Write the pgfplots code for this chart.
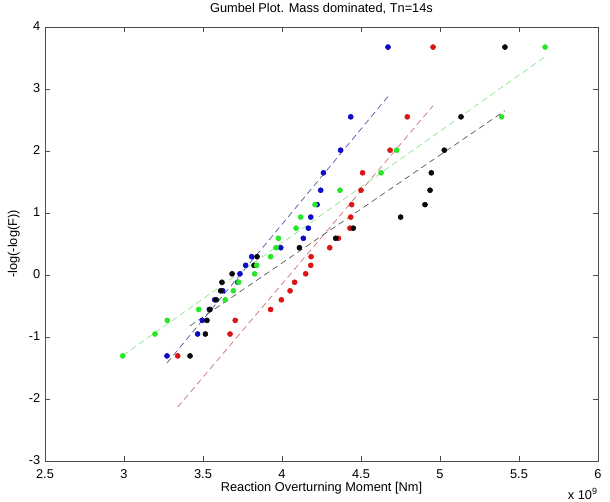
\documentclass[border=0pt]{standalone}
\usepackage{pgfplots}
\pgfplotsset{compat=1.18}
\usepackage{fontspec}
\setmainfont{Liberation Sans}
\definecolor{dotblue}{RGB}{10,10,200}
\definecolor{dotred}{RGB}{220,20,20}
\definecolor{dotgreen}{RGB}{40,230,40}
\definecolor{dotblack}{RGB}{10,10,10}
\definecolor{lnblue}{RGB}{80,80,160}
\definecolor{lnred}{RGB}{200,110,110}
\definecolor{lngreen}{RGB}{140,225,140}
\definecolor{lnblack}{RGB}{85,85,85}
\newcommand{\fs}{\fontsize{9.6}{11}\selectfont}
\begin{document}
\begin{tikzpicture}
\begin{axis}[
  at={(0,0)}, anchor=south west,
  scale only axis, width=414.75pt, height=325.5pt,
  xmin=2.5, xmax=6, ymin=-3, ymax=4,
  xtick={2.5,3,3.5,4,4.5,5,5.5,6},
  xticklabels={2.5,3,3.5,4,4.5,5,5.5,6},
  ytick={-3,-2,-1,0,1,2,3,4},
  yticklabels={-3,-2,-1,0,1,2,3,4},
  axis line style={draw=black!70},
  tick style={draw=black!70},
  major tick length=4pt,
  tick align=inside,
  tick label style={font=\fs},
  xticklabel style={yshift=-3pt},
  yticklabel style={yshift=1pt},
  label style={font=\fs},
  xlabel style={at={(axis description cs:0.5,0)}, anchor=center, yshift=-20.5pt},
  title style={font=\fs},
  title={Gumbel Plot. Mass dominated, Tn=14s},
  xlabel={Reaction Overturning Moment [Nm]},
  ylabel={-log(-log(F))},
  clip=false,
]
% fitted lines
\addplot[lnblue, line width=0.5pt, dash pattern=on 4.5pt off 3pt] coordinates {(3.272,-1.42) (4.671,2.88)};
\addplot[lnred, line width=0.5pt, dash pattern=on 4.5pt off 3pt] coordinates {(3.340,-2.13) (4.956,2.73)};
\addplot[lnblack, line width=0.5pt, dash pattern=on 4.5pt off 3pt] coordinates {(3.418,-0.82) (5.411,2.65)};
\addplot[lngreen, line width=0.5pt, dash pattern=on 4.5pt off 3pt] coordinates {(2.992,-1.30) (5.665,3.52)};
% data points
\addplot[only marks, mark=*, mark size=1.9pt, dotblue, mark options={draw=dotblue, fill=dotblue}] coordinates {
(3.272,-1.305) (3.466,-0.952) (3.496,-0.732) (3.540,-0.556) (3.574,-0.400) (3.625,-0.255) (3.720,-0.117) (3.734,0.019) (3.770,0.156) (3.808,0.295) (3.992,0.440) (4.135,0.592) (4.167,0.755) (4.182,0.934) (4.222,1.135) (4.245,1.367) (4.262,1.648) (4.371,2.013) (4.435,2.551) (4.671,3.676)};
\addplot[only marks, mark=*, mark size=1.9pt, dotred, mark options={draw=dotred, fill=dotred}] coordinates {
(3.340,-1.305) (3.671,-0.952) (3.704,-0.732) (3.928,-0.556) (3.996,-0.400) (4.051,-0.255) (4.080,-0.117) (4.150,0.019) (4.182,0.156) (4.184,0.295) (4.302,0.440) (4.357,0.592) (4.430,0.755) (4.435,0.934) (4.441,1.135) (4.500,1.367) (4.510,1.648) (4.684,2.013) (4.793,2.551) (4.956,3.676)};
\addplot[only marks, mark=*, mark size=1.9pt, dotblack, mark options={draw=dotblack, fill=dotblack}] coordinates {
(3.418,-1.305) (3.515,-0.952) (3.525,-0.732) (3.544,-0.556) (3.584,-0.400) (3.612,-0.255) (3.620,-0.117) (3.684,0.019) (3.823,0.156) (3.842,0.295) (4.110,0.440) (4.340,0.592) (4.451,0.755) (4.751,0.934) (4.905,1.135) (4.937,1.367) (4.945,1.648) (5.027,2.013) (5.133,2.551) (5.411,3.676)};
\addplot[only marks, mark=*, mark size=1.9pt, dotgreen, mark options={draw=dotgreen, fill=dotgreen}] coordinates {
(2.992,-1.305) (3.196,-0.952) (3.274,-0.732) (3.473,-0.556) (3.641,-0.400) (3.692,-0.255) (3.726,-0.117) (3.827,0.019) (3.840,0.156) (3.928,0.295) (3.962,0.440) (3.977,0.592) (4.089,0.755) (4.118,0.934) (4.209,1.135) (4.367,1.367) (4.627,1.648) (4.726,2.013) (5.390,2.551) (5.665,3.676)};
\node[anchor=east, font=\fs, inner sep=0pt] at ([yshift=-25pt]rel axis cs:1,0) {x 10\textsuperscript{9}};
\end{axis}
\pgfresetboundingbox
\path (-33.75pt,-30.75pt) rectangle (423.75pt,345.75pt);
\end{tikzpicture}
\end{document}
